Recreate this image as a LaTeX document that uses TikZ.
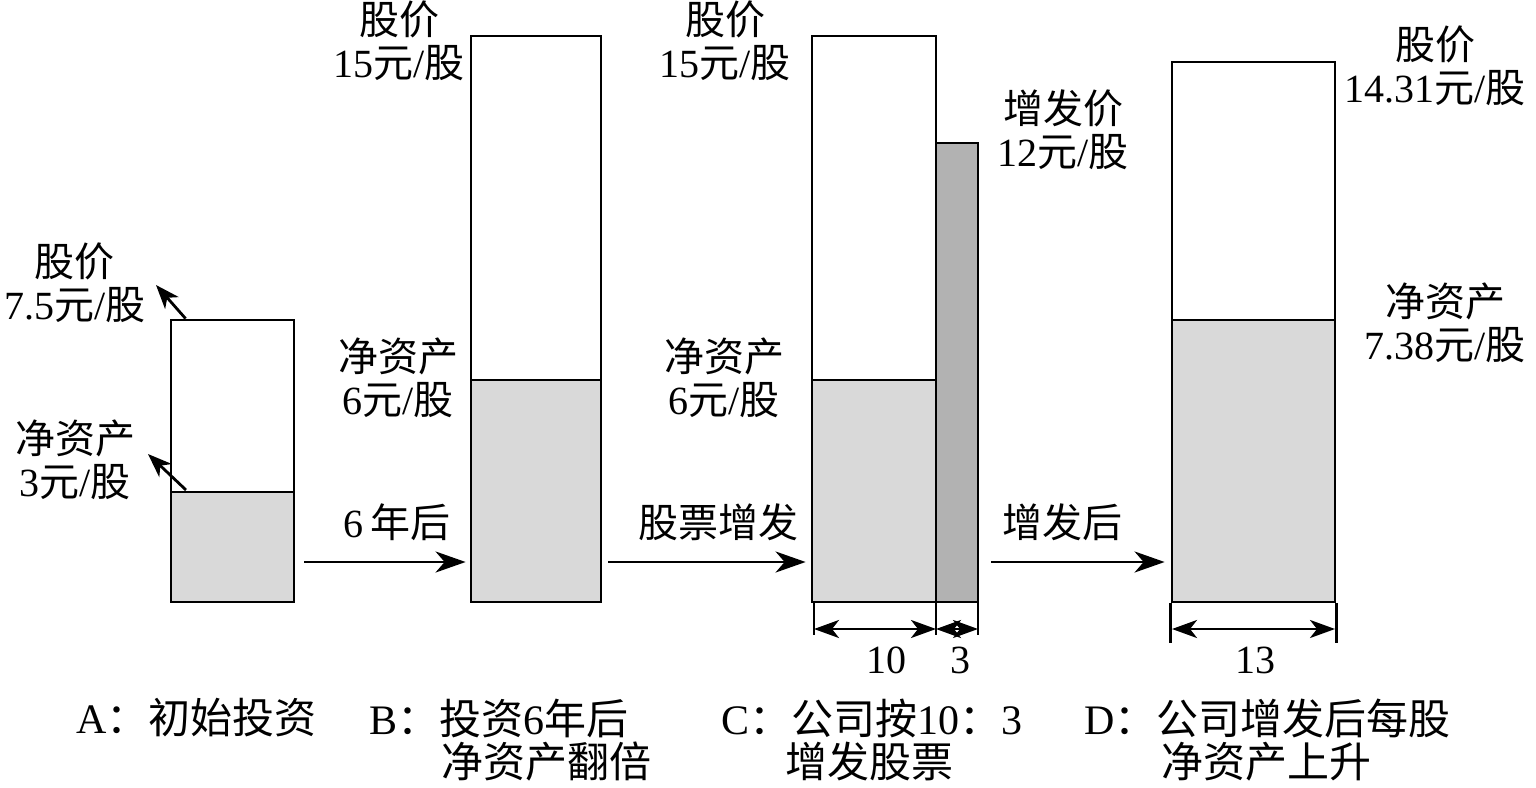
\documentclass[tikz,border=0pt]{standalone}
\usepackage{fontspec}
\setmainfont{Liberation Serif}
\newfontfamily\cjk{Noto Sans CJK SC}
\usetikzlibrary{arrows.meta}
\newcommand\zh[1]{{\cjk #1}}
\definecolor{lightfill}{RGB}{217,217,217}
\definecolor{darkfill}{RGB}{178,178,178}
\begin{document}
\begin{tikzpicture}[x=1pt,y=-1pt,line width=2.8pt,
  lbl/.style={font=\fontsize{40}{43}\selectfont,align=center,inner sep=0pt},
  captxt/.style={font=\fontsize{42}{44}\selectfont,inner sep=0pt,anchor=west},
  barbox/.style={draw,inner sep=0pt,line width=2.8pt},
  flow/.style={-{Stealth[length=30pt,width=21pt,inset=9pt]},line width=2.8pt},
  pointer/.style={-{Stealth[length=24pt,width=18pt,inset=7pt]},line width=2.8pt},
  dimline/.style={{Stealth[length=25pt,width=18pt,inset=7pt]}-{Stealth[length=25pt,width=18pt,inset=7pt]},line width=2.8pt},
  extline/.style={line width=2.8pt}]
\path[use as bounding box] (0,0) rectangle (1536,787);

% fills
\fill[lightfill] (171,492) rectangle (294,602);
\fill[lightfill] (471,380) rectangle (601,602);
\fill[lightfill] (812,380) rectangle (936,602);
\fill[darkfill] (936,143) rectangle (978,602);
\fill[lightfill] (1172,320) rectangle (1335,602);

% bars
\node[barbox,minimum width=123pt,minimum height=282pt] (A) at (232.5,461) {};
\node[barbox,minimum width=130pt,minimum height=566pt] (B) at (536,319) {};
\node[barbox,minimum width=124pt,minimum height=566pt] (C) at (874,319) {};
\node[barbox,minimum width=42pt,minimum height=459pt] (C2) at (957,372.5) {};
\node[barbox,minimum width=163pt,minimum height=540pt] (D) at (1253.5,332) {};
\draw (171,492) -- (294,492);
\draw (471,380) -- (601,380);
\draw (812,380) -- (936,380);
\draw (1172,320) -- (1335,320);

% labels A
\node[lbl] (Ap) at (75,283) {\zh{股价}\\7.5\zh{元}/\zh{股}};
\node[lbl] (An) at (75,460) {\zh{净资产}\\3\zh{元}/\zh{股}};
\coordinate (ApT) at (156,285);
\coordinate (AnT) at (148,454);
\draw[pointer] ([xshift=16pt]A.north west) -- (ApT);
\draw[pointer] (186,490) -- (AnT);

% labels B
\node[lbl] (Bp) at (399,41) {\zh{股价}\\15\zh{元}/\zh{股}};
\node[lbl] (Bn) at (398,378) {\zh{净资产}\\6\zh{元}/\zh{股}};
% labels C
\node[lbl] (Cp) at (725,41) {\zh{股价}\\15\zh{元}/\zh{股}};
\node[lbl] (Cn) at (724,378) {\zh{净资产}\\6\zh{元}/\zh{股}};
\node[lbl] (Cz) at (1063,130) {\zh{增发价}\\12\zh{元}/\zh{股}};
% labels D
\node[lbl] (Dp) at (1435,66) {\zh{股价}\\14.31\zh{元}/\zh{股}};
\node[lbl] (Dn) at (1445,323) {\zh{净资产}\\7.38\zh{元}/\zh{股}};

% flow arrows
\coordinate (lvl) at (0,562);
\draw[flow] ([xshift=9pt]A.east |- lvl) -- ([xshift=-4pt]B.west |- lvl);
\draw[flow] ([xshift=6pt]B.east |- lvl) -- ([xshift=-5pt]C.west |- lvl);
\draw[flow] ([xshift=12pt]C2.east |- lvl) -- ([xshift=-6pt]D.west |- lvl);
\node[lbl] (t1) at (397,522) {6\,\zh{年后}};
\node[lbl] (t2) at (718,522) {\zh{股票增发}};
\node[lbl] (t3) at (1062,522) {\zh{增发后}};

% dimensions
\coordinate (e1) at (814,602);
\coordinate (e2) at (936,602);
\coordinate (e3) at (978,602);
\draw[extline] (e1) -- ++(0,33);
\draw[extline] (e2) -- ++(0,33);
\draw[extline] (e3) -- ++(0,33);
\draw[dimline] (814,629) -- (936,629);
\draw[dimline] (936,629) -- (978,629);
\node[lbl] (n10) at (886,660) {10};
\node[lbl] (n3) at (960,660) {3};
\draw[extline] (D.south west) -- ++(0,40);
\draw[extline] (D.south east) -- ++(0,40);
\draw[dimline] (1172,629) -- (1335,629);
\node[lbl] (n13) at (1255,660) {13};

% captions
\node[captxt] (ca) at (75,718) {A\zh{：初始投资}};
\node[captxt] (cb) at (368,718) {B\zh{：投资}6\zh{年后}};
\node[captxt] (cb2) at (440,762) {\zh{净资产翻倍}};
\node[captxt] (cc) at (720,718) {C\zh{：公司按}10\zh{：}3};
\node[captxt] (cc2) at (784,762) {\zh{增发股票}};
\node[captxt] (cd) at (1083,718) {D\zh{：公司增发后每股}};
\node[captxt] (cd2) at (1160,762) {\zh{净资产上升}};
\end{tikzpicture}
\end{document}
